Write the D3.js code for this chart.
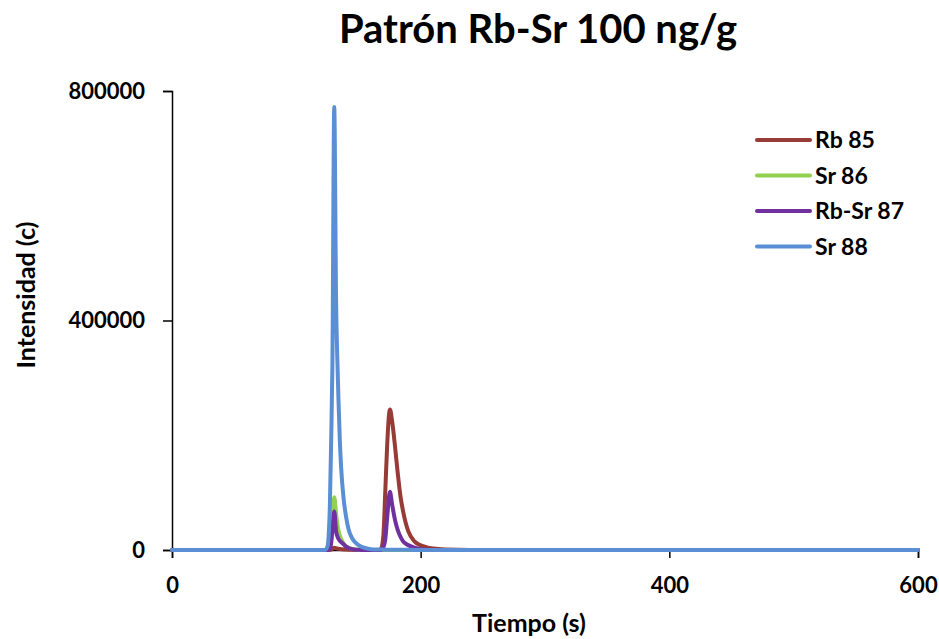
<!DOCTYPE html>
<html>
<head>
<meta charset="utf-8">
<script src="https://cdn.jsdelivr.net/npm/d3@7"></script>
<style>
  body { margin: 0; background: #fff; }
  text { font-family: Lato, "Open Sans", sans-serif; font-weight: 700; fill: #000; }
</style>
</head>
<body>
<svg width="939" height="639"></svg>
<script>
// tiempo (s) compartido por las cuatro series
var tiempo = [0, 120, 123, 125, 126, 127, 128, 129, 130.5, 132,
              133, 134, 135, 136, 138, 140, 142, 145, 148, 152,
              156, 160, 166, 168, 170, 171.5, 173, 175.3, 177, 179.4,
              181.5, 184, 186, 188, 190, 195, 200, 205, 210, 220,
              240, 600];

var rb85 = [0, 0, 0, 0, 0, 0, 500, 2000, 4000, 3000,
            2500, 2000, 1700, 1500, 1000, 700, 500, 300, 150, 50,
            0, 0, 0, 2000, 25000, 100000, 180000, 245000, 225000, 180000,
            135000, 90000, 66000, 47000, 33000, 15000, 8000, 4500, 2500, 800,
            0, 0];

var sr86 = [0, 0, 0, 0, 0, 5000, 20000, 50000, 92000, 62000,
            45000, 33000, 25000, 19000, 11000, 6500, 4000, 2000, 1000, 400,
            100, 0, 0, 0, 0, 0, 0, 0, 0, 0,
            0, 0, 0, 0, 0, 0, 0, 0, 0, 0,
            0, 0];

var rbsr87 = [0, 0, 0, 0, 0, 1500, 12000, 35000, 67000, 32000,
              24000, 19000, 16000, 14000, 10000, 6000, 3500, 1500, 600, 200,
              0, 0, 0, 0, 5000, 18000, 55000, 101500, 80000, 52000,
              35000, 22000, 15000, 11000, 8500, 4000, 1500, 600, 200, 0,
              0, 0];

var sr88 = [0, 0, 0, 6000, 25000, 80000, 190000, 320000, 772000, 430000,
            330000, 255000, 190000, 145000, 90000, 58000, 36000, 20000, 12000, 6000,
            3000, 1500, 800, 700, 600, 500, 450, 400, 380, 350,
            300, 280, 260, 240, 220, 180, 150, 120, 100, 60,
            20, 0];

var nombres = ["Rb 85", "Sr 86", "Rb-Sr 87", "Sr 88"];
var colores = ["#983a35", "#92d050", "#7030a0", "#5a8fd5"];
var valores = [rb85, sr86, rbsr87, sr88];

var xTicks = [0, 200, 400, 600];
var yTicks = [0, 400000, 800000];

var svg = d3.select("svg");

var x = d3.scaleLinear().domain([0, 600]).range([172, 918]);
var y = d3.scaleLinear().domain([0, 800000]).range([550, 91]);

// titulo
svg.append("text")
  .attr("x", 538).attr("y", 43)
  .attr("text-anchor", "middle")
  .style("font-size", "40px")
  .text("Patrón Rb-Sr 100 ng/g");

// ejes
var yAxis = svg.append("g")
  .attr("transform", "translate(172,0)")
  .call(d3.axisLeft(y).tickValues(yTicks).tickSize(9).tickPadding(18).tickFormat(d3.format("d")));

var xAxis = svg.append("g")
  .attr("transform", "translate(0,550)")
  .call(d3.axisBottom(x).tickValues(xTicks).tickSize(8).tickPadding(19).tickFormat(d3.format("d")));

[xAxis, yAxis].forEach(function (g) {
  g.select(".domain").attr("stroke", "#000").attr("stroke-width", 1.5);
  g.selectAll(".tick line").attr("stroke", "#000").attr("stroke-width", 1.5);
  g.selectAll(".tick text").style("font-size", "22px").attr("font-family", null);
});

// titulos de ejes
svg.append("text")
  .attr("x", 529).attr("y", 632)
  .attr("text-anchor", "middle")
  .style("font-size", "25px")
  .text("Tiempo (s)");

svg.append("text")
  .attr("transform", "translate(35,295) rotate(-90)")
  .attr("text-anchor", "middle")
  .style("font-size", "25px")
  .text("Intensidad (c)");

// series
var line = d3.line()
  .x(function (d) { return x(d[0]); })
  .y(function (d) { return y(d[1]); })
  .curve(d3.curveMonotoneX);

valores.forEach(function (serie, i) {
  svg.append("path")
    .datum(tiempo.map(function (t, j) { return [t, serie[j]]; }))
    .attr("fill", "none")
    .attr("stroke", colores[i])
    .attr("stroke-width", 4)
    .attr("stroke-linejoin", "round")
    .attr("stroke-linecap", "round")
    .attr("d", line);
});

// leyenda
var leyenda = svg.append("g");
nombres.forEach(function (n, i) {
  var yy = 140 + i * 35.5;
  leyenda.append("line")
    .attr("x1", 757).attr("x2", 810)
    .attr("y1", yy).attr("y2", yy)
    .attr("stroke", colores[i])
    .attr("stroke-width", 4)
    .attr("stroke-linecap", "round");
  leyenda.append("text")
    .attr("x", 815).attr("y", yy)
    .attr("dy", "0.35em")
    .style("font-size", "23px")
    .text(n);
});
</script>
</body>
</html>
